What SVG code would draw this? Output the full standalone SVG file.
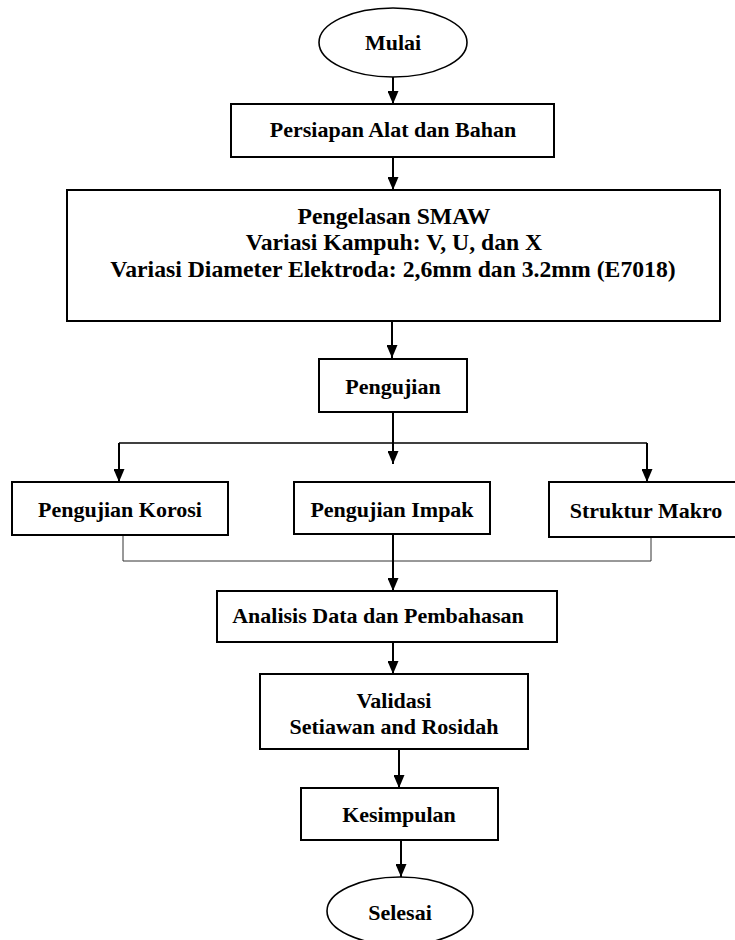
<svg xmlns="http://www.w3.org/2000/svg" width="735" height="940" viewBox="0 0 735 940">
<defs>
<marker id="ah" markerUnits="userSpaceOnUse" markerWidth="13" markerHeight="11" refX="13" refY="5.5" orient="auto">
<path d="M0,0 L13,5.5 L0,11 z" fill="#000"/>
</marker>
</defs>
<style>
.box{fill:#fff;stroke:#000;stroke-width:2}
.ell{fill:#fff;stroke:#000;stroke-width:1.6}
.t{font-family:"Liberation Serif","Times New Roman",serif;font-weight:bold;font-size:22px;fill:#000;text-anchor:middle}
.big{font-size:23.7px}
.arr{stroke:#000;stroke-width:2;fill:none;marker-end:url(#ah)}
.thin{stroke:#000;stroke-width:1.4;fill:none}
.gray{stroke:#333;stroke-width:1;fill:none}
</style>
<rect width="735" height="940" fill="#fff"/>
<g id="connectors">
<line class="arr" x1="393" y1="77" x2="393" y2="104"/>
<line class="arr" x1="393" y1="157" x2="393" y2="190"/>
<line class="arr" x1="392" y1="321" x2="392" y2="358"/>
<line class="arr" x1="393" y1="412" x2="393" y2="464"/>
<line class="thin" x1="119" y1="443" x2="647" y2="443"/>
<line class="arr" x1="119" y1="443" x2="119" y2="482"/>
<line class="arr" x1="647" y1="443" x2="647" y2="482"/>
<polyline class="gray" points="123,535 123,561 651,561 651,537"/>
<line class="arr" x1="393" y1="534" x2="393" y2="591"/>
<line class="arr" x1="393" y1="642" x2="393" y2="674"/>
<line class="arr" x1="399" y1="749" x2="399" y2="788"/>
<line class="arr" x1="401" y1="840" x2="401" y2="877"/>
</g>
<g id="mulai">
<ellipse class="ell" cx="393" cy="42.5" rx="74" ry="34.5"/>
<text class="t" x="393" y="50">Mulai</text>
</g>
<g id="persiapan">
<rect class="box" x="231" y="104" width="323" height="53"/>
<text class="t" x="393" y="137">Persiapan Alat dan Bahan</text>
</g>
<g id="pengelasan">
<rect class="box" x="67" y="190" width="653" height="131"/>
<text class="t big" x="394" y="224">Pengelasan SMAW</text>
<text class="t big" x="394" y="250">Variasi Kampuh: V, U, dan X</text>
<text class="t big" x="393" y="277">Variasi Diameter Elektroda: 2,6mm dan 3.2mm (E7018)</text>
</g>
<g id="pengujian">
<rect class="box" x="319" y="359" width="148" height="53"/>
<text class="t" x="393" y="394">Pengujian</text>
</g>
<g id="korosi">
<rect class="box" x="12" y="482" width="216" height="53"/>
<text class="t" x="120" y="517">Pengujian Korosi</text>
</g>
<g id="impak">
<rect class="box" x="294" y="482" width="196" height="52"/>
<text class="t" x="392" y="517">Pengujian Impak</text>
</g>
<g id="makro">
<rect class="box" x="549" y="482" width="190" height="55"/>
<text class="t" x="646" y="518">Struktur Makro</text>
</g>
<g id="analisis">
<rect class="box" x="217" y="591" width="340" height="51"/>
<text class="t" x="378" y="623">Analisis Data dan Pembahasan</text>
</g>
<g id="validasi">
<rect class="box" x="260" y="674" width="268" height="75"/>
<text class="t" x="394" y="708">Validasi</text>
<text class="t" x="394" y="734">Setiawan and Rosidah</text>
</g>
<g id="kesimpulan">
<rect class="box" x="301" y="788" width="197" height="52"/>
<text class="t" x="399" y="822">Kesimpulan</text>
</g>
<g id="selesai">
<ellipse class="ell" cx="400" cy="911" rx="73" ry="34"/>
<text class="t" x="400" y="920">Selesai</text>
</g>
</svg>
